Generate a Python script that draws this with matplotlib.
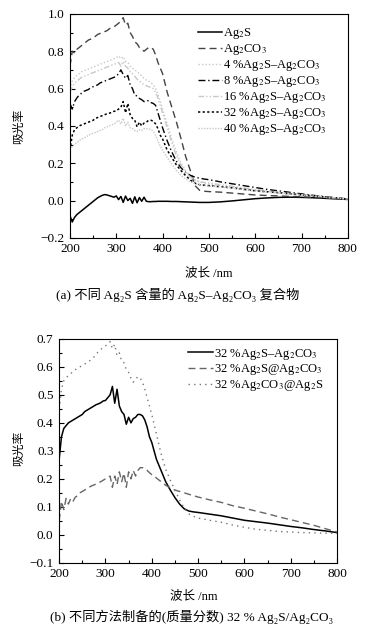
import matplotlib
matplotlib.use("Agg")
import matplotlib.pyplot as plt
from matplotlib.ticker import MultipleLocator

plt.rcParams["font.family"] = ["Liberation Serif", "DejaVu Serif", "Noto Sans CJK SC"]
plt.rcParams["mathtext.fontset"] = "stix"
plt.rcParams["font.size"] = 9

# ---- data (wavelength grid shared by all curves) ----
wavelength = [
    200, 205, 210, 215, 220, 225, 230, 235, 240, 245, 250, 255, 260, 265, 270, 275, 280, 285, 290, 295,
    300, 305, 310, 315, 320, 325, 330, 335, 340, 345, 350, 355, 360, 365, 370, 375, 380, 385, 390, 395, 400,
    410, 420, 430, 440, 450, 460, 470, 480, 490, 500,
    525, 550, 575, 600, 625, 650, 675, 700, 725, 750, 775, 800,
]

ag2s = [
    -0.08, -0.115, -0.09, -0.075, -0.065, -0.055, -0.045, -0.035, -0.025, -0.015, -0.005, 0.005, 0.015, 0.022, 0.028, 0.032, 0.03, 0.026, 0.022, 0.018,
    0.025, 0.005, 0.022, -0.01, 0.024, 0.0, 0.012, -0.015, 0.02, -0.012, 0.016, -0.004, 0.018, -0.004, -0.006, -0.006, -0.005, -0.005, -0.004, -0.004, -0.004,
    -0.004, -0.005, -0.005, -0.006, -0.007, -0.008, -0.009, -0.01, -0.01, -0.01,
    -0.007, -0.002, 0.004, 0.01, 0.014, 0.017, 0.018, 0.017, 0.015, 0.012, 0.009, 0.006,
]
ag2co3 = [
    0.72, 0.80, 0.79, 0.81, 0.82, 0.83, 0.84, 0.85, 0.86, 0.865, 0.87, 0.88, 0.89, 0.895, 0.90, 0.905, 0.91, 0.92, 0.925, 0.93,
    0.94, 0.95, 0.96, 0.98, 0.94, 0.95, 0.90, 0.88, 0.85, 0.84, 0.82, 0.81, 0.80, 0.81, 0.82, 0.82, 0.81, 0.78, 0.74, 0.71, 0.68,
    0.58, 0.50, 0.42, 0.33, 0.235, 0.16, 0.08, 0.055, 0.05, 0.048,
    0.045, 0.04, 0.035, 0.03, 0.027, 0.025, 0.022, 0.02, 0.017, 0.014, 0.01, 0.007,
]
pct4 = [
    0.60, 0.64, 0.66, 0.67, 0.68, 0.69, 0.695, 0.70, 0.705, 0.71, 0.715, 0.72, 0.725, 0.73, 0.735, 0.74, 0.745, 0.75, 0.755, 0.76,
    0.765, 0.775, 0.76, 0.77, 0.745, 0.74, 0.72, 0.71, 0.70, 0.69, 0.68, 0.665, 0.655, 0.645, 0.64, 0.63, 0.62, 0.60, 0.57, 0.53, 0.49,
    0.41, 0.33, 0.26, 0.20, 0.16, 0.13, 0.11, 0.10, 0.095, 0.09,
    0.08, 0.072, 0.064, 0.056, 0.048, 0.042, 0.036, 0.03, 0.024, 0.018, 0.012, 0.008,
]
pct8 = [
    0.52, 0.49, 0.53, 0.55, 0.565, 0.575, 0.585, 0.59, 0.595, 0.605, 0.61, 0.615, 0.62, 0.63, 0.635, 0.64, 0.645, 0.65, 0.655, 0.66,
    0.665, 0.68, 0.70, 0.675, 0.655, 0.67, 0.62, 0.60, 0.565, 0.56, 0.547, 0.54, 0.53, 0.535, 0.535, 0.525, 0.52, 0.51, 0.47, 0.43, 0.39,
    0.32, 0.26, 0.21, 0.175, 0.15, 0.135, 0.125, 0.12, 0.115, 0.112,
    0.10, 0.09, 0.08, 0.07, 0.06, 0.052, 0.044, 0.036, 0.028, 0.021, 0.014, 0.009,
]
pct16 = [
    0.58, 0.61, 0.63, 0.64, 0.65, 0.66, 0.665, 0.67, 0.675, 0.68, 0.685, 0.69, 0.695, 0.70, 0.705, 0.71, 0.715, 0.72, 0.725, 0.73,
    0.735, 0.74, 0.72, 0.745, 0.72, 0.71, 0.69, 0.68, 0.665, 0.65, 0.64, 0.63, 0.62, 0.615, 0.61, 0.605, 0.60, 0.58, 0.55, 0.51, 0.47,
    0.39, 0.31, 0.24, 0.19, 0.15, 0.125, 0.11, 0.10, 0.097, 0.094,
    0.085, 0.077, 0.068, 0.06, 0.052, 0.045, 0.038, 0.032, 0.026, 0.02, 0.014, 0.009,
]
pct32 = [
    0.27, 0.35, 0.38, 0.39, 0.40, 0.405, 0.41, 0.415, 0.42, 0.425, 0.43, 0.44, 0.445, 0.45, 0.455, 0.46, 0.465, 0.468, 0.472, 0.478,
    0.48, 0.49, 0.50, 0.53, 0.47, 0.52, 0.46, 0.44, 0.43, 0.395, 0.42, 0.40, 0.415, 0.42, 0.43, 0.43, 0.425, 0.41, 0.385, 0.35, 0.33,
    0.27, 0.23, 0.19, 0.16, 0.133, 0.11, 0.093, 0.085, 0.082, 0.08,
    0.074, 0.068, 0.06, 0.052, 0.047, 0.042, 0.036, 0.03, 0.025, 0.019, 0.014, 0.008,
]
pct40 = [
    0.27, 0.29, 0.30, 0.31, 0.32, 0.33, 0.335, 0.34, 0.35, 0.355, 0.36, 0.365, 0.37, 0.375, 0.38, 0.39, 0.395, 0.40, 0.405, 0.41,
    0.42, 0.43, 0.41, 0.44, 0.40, 0.42, 0.39, 0.385, 0.375, 0.37, 0.38, 0.375, 0.385, 0.385, 0.385, 0.38, 0.37, 0.35, 0.32, 0.29, 0.27,
    0.23, 0.195, 0.16, 0.135, 0.115, 0.10, 0.09, 0.085, 0.08, 0.078,
    0.072, 0.066, 0.058, 0.05, 0.045, 0.04, 0.035, 0.03, 0.025, 0.019, 0.014, 0.008,
]
core_ag2s = [  # 32 %Ag2S@Ag2CO3
    0.05, 0.12, 0.09, 0.13, 0.11, 0.13, 0.12, 0.135, 0.14, 0.15, 0.155, 0.16, 0.165, 0.17, 0.175, 0.178, 0.182, 0.186, 0.19, 0.195,
    0.20, 0.205, 0.21, 0.17, 0.21, 0.18, 0.225, 0.19, 0.22, 0.17, 0.225, 0.20, 0.23, 0.21, 0.23, 0.24, 0.24, 0.235, 0.23, 0.222, 0.215,
    0.203, 0.19, 0.177, 0.168, 0.16, 0.155, 0.15, 0.145, 0.14, 0.135,
    0.125, 0.116, 0.104, 0.095, 0.085, 0.075, 0.064, 0.054, 0.044, 0.034, 0.022, 0.01,
]
core_ag2co3 = [  # 32 %Ag2CO3@Ag2S
    0.45, 0.52, 0.55, 0.56, 0.57, 0.575, 0.585, 0.59, 0.595, 0.60, 0.605, 0.61, 0.615, 0.62, 0.628, 0.635, 0.645, 0.655, 0.662, 0.67,
    0.675, 0.68, 0.69, 0.665, 0.68, 0.64, 0.65, 0.62, 0.615, 0.59, 0.58, 0.56, 0.545, 0.555, 0.565, 0.56, 0.545, 0.52, 0.49, 0.46, 0.43,
    0.36, 0.29, 0.235, 0.195, 0.16, 0.125, 0.095, 0.075, 0.066, 0.06,
    0.052, 0.045, 0.035, 0.027, 0.02, 0.016, 0.012, 0.01, 0.008, 0.007, 0.006, 0.005,
]

fig = plt.figure(figsize=(3.72, 6.31), dpi=100)
ax1 = fig.add_axes([0.188, 0.623, 0.747, 0.355])
ax2 = fig.add_axes([0.159, 0.108, 0.747, 0.355])

# ---- (a) ----
ax1.plot(wavelength, ag2s, color="black", lw=1.1, label="Ag$_2$S")
ax1.plot(wavelength, ag2co3, color="#444444", lw=1.0, ls=(0, (5, 3)), label="Ag$_2$CO$_3$")
ax1.plot(wavelength, pct4, color="#c8c8c8", lw=1.0, ls=(0, (1, 1.5)), label="4 %Ag$_2$S–Ag$_2$CO$_3$")
ax1.plot(wavelength, pct8, color="black", lw=1.0, ls=(0, (5, 2, 1, 2)), label="8 %Ag$_2$S–Ag$_2$CO$_3$")
ax1.plot(wavelength, pct16, color="#c8c8c8", lw=1.0, ls=(0, (4, 1.5, 1, 1.5, 1, 1.5)), label="16 %Ag$_2$S–Ag$_2$CO$_3$")
ax1.plot(wavelength, pct32, color="black", lw=1.1, ls=(0, (1.5, 1.5)), label="32 %Ag$_2$S–Ag$_2$CO$_3$")
ax1.plot(wavelength, pct40, color="#c8c8c8", lw=1.0, ls=(0, (1, 1)), label="40 %Ag$_2$S–Ag$_2$CO$_3$")
ax1.set_xlim(200, 800)
ax1.set_ylim(-0.2, 1.0)
ax1.yaxis.set_major_locator(MultipleLocator(0.2))
ax1.yaxis.set_minor_locator(MultipleLocator(0.1))
ax1.legend(loc="upper left", bbox_to_anchor=(0.46, 0.945), frameon=False, handlelength=1.9,
           handletextpad=0.15, labelspacing=0.08, borderpad=0, borderaxespad=0, fontsize=9)

# ---- (b) ----
ax2.plot(wavelength, pct32, color="black", lw=1.1, label="32 %Ag$_2$S–Ag$_2$CO$_3$")
ax2.plot(wavelength, core_ag2s, color="#666666", lw=1.0, ls=(0, (5, 3)), label="32 %Ag$_2$S@Ag$_2$CO$_3$")
ax2.plot(wavelength, core_ag2co3, color="#777777", lw=1.0, ls=(0, (1, 3)), label="32 %Ag$_2$CO$_3$@Ag$_2$S")
ax2.set_xlim(200, 800)
ax2.set_ylim(-0.1, 0.7)
ax2.yaxis.set_major_locator(MultipleLocator(0.1))
ax2.yaxis.set_minor_locator(MultipleLocator(0.05))
ax2.legend(loc="upper left", bbox_to_anchor=(0.464, 0.965), frameon=False, handlelength=2.0,
           handletextpad=0.1, labelspacing=0.05, borderpad=0, borderaxespad=0, fontsize=9)

for ax in (ax1, ax2):
    ax.xaxis.set_major_locator(MultipleLocator(100))
    ax.xaxis.set_minor_locator(MultipleLocator(50))
    ax.tick_params(which="both", direction="in", top=False, right=False, labelsize=9.5, pad=4)
    ax.tick_params(which="major", length=3.5, width=0.8)
    ax.tick_params(which="minor", length=2, width=0.8)
    for s in ax.spines.values():
        s.set_linewidth(0.8)

cjk = ["Noto Sans CJK SC", "DejaVu Sans"]
mixed = ["Liberation Serif", "Noto Sans CJK SC", "DejaVu Serif"]
fig.text(0.05, 0.80, "吸光率", rotation=90, ha="center", va="center", family=cjk, fontsize=8.5)
fig.text(0.05, 0.29, "吸光率", rotation=90, ha="center", va="center", family=cjk, fontsize=8.5)
fig.text(0.56, 0.567, "波长 /nm", ha="center", va="center", fontsize=9, family=mixed)
fig.text(0.52, 0.055, "波长 /nm", ha="center", va="center", fontsize=9, family=mixed)
fig.text(0.477, 0.532, "(a) 不同 Ag₂S 含量的 Ag₂S–Ag₂CO₃ 复合物", ha="center", va="center",
         fontsize=9.5, family=mixed)
fig.text(0.515, 0.022, "(b) 不同方法制备的(质量分数) 32 % Ag₂S/Ag₂CO₃", ha="center", va="center",
         fontsize=9.5, family=mixed)

fig.savefig("out.png", dpi=100)
